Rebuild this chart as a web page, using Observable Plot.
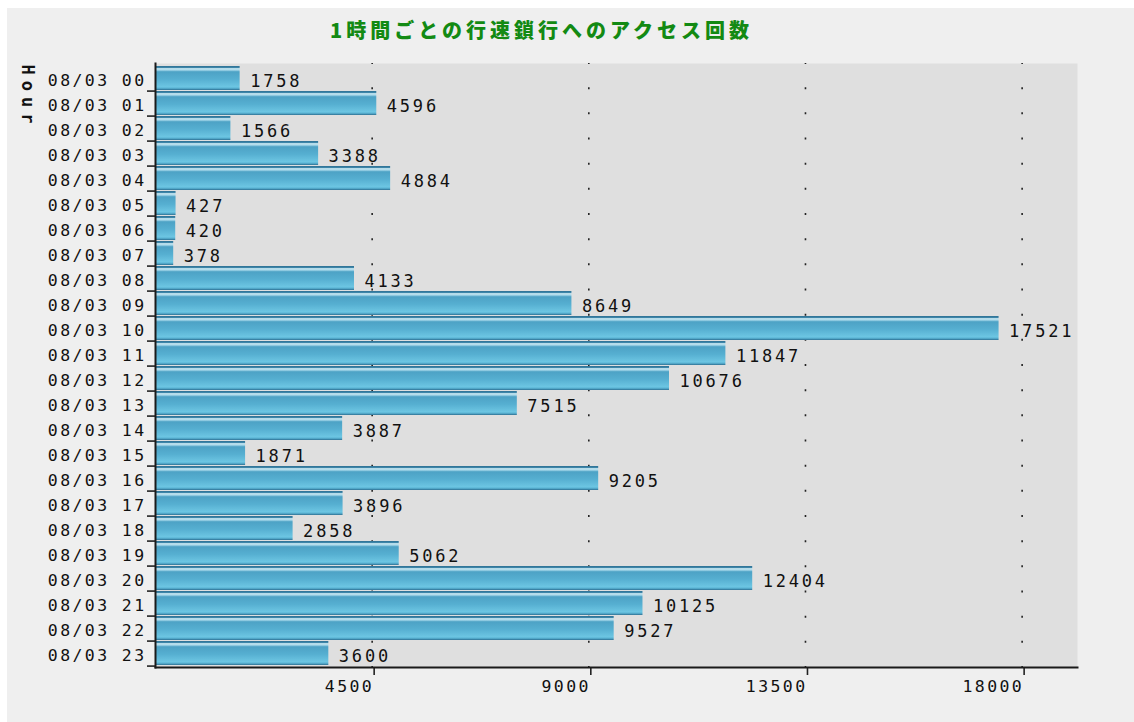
<!DOCTYPE html>
<html>
<head>
<meta charset="utf-8">
<script src="https://cdn.jsdelivr.net/npm/d3@7"></script>
<script src="https://cdn.jsdelivr.net/npm/@observablehq/plot@0.6"></script>
<style>
  body { margin: 0; background: #ffffff; }
  #wrap { position: absolute; left: 7px; top: 8px; width: 1127px; height: 714px; background: #efefef; overflow: hidden; }
  #title { height: 44px; box-sizing: border-box; padding-left: 323px; padding-top: 10px;
           font-family: "Noto Sans CJK JP", sans-serif; font-weight: 900; font-size: 20px;
           letter-spacing: 4px; color: #138a13; line-height: 24px; white-space: nowrap; }
  #chart svg text { letter-spacing: 2.4px; }
  #chart svg .vlabel text { letter-spacing: 2.8px; }
  #chart svg .ylab text { letter-spacing: 6px; }
</style>
</head>
<body>
<div id="wrap">
  <div id="title">1時間ごとの行速鎖行へのアクセス回数</div>
  <div id="chart"></div>
</div>
<script>
// Hourly access counts
const hours = ["08/03 00","08/03 01","08/03 02","08/03 03","08/03 04","08/03 05","08/03 06","08/03 07",
               "08/03 08","08/03 09","08/03 10","08/03 11","08/03 12","08/03 13","08/03 14","08/03 15",
               "08/03 16","08/03 17","08/03 18","08/03 19","08/03 20","08/03 21","08/03 22","08/03 23"];
const counts = [1758,4596,1566,3388,4884,427,420,378,4133,8649,17521,11847,10676,7515,3887,1871,
                9205,3896,2858,5062,12404,10125,9527,3600];
const xTicks = [4500, 9000, 13500, 18000];
const axisLabel = "Hour";

const rows = hours.map((h, i) => ({hour: h, count: counts[i]}));

const W = 1127, H = 670, mT = 11, mB = 55, mL = 148, mR = 57;
const step = (H - mT - mB) / hours.length;

const chart = Plot.plot({
  width: W,
  height: H,
  marginTop: mT,
  marginBottom: mB,
  marginLeft: mL,
  marginRight: mR,
  style: {fontFamily: "'DejaVu Sans Mono', monospace", fontSize: "16px", color: "#111", background: "transparent"},
  x: {domain: [0, 19150], axis: null},
  y: {domain: hours, paddingInner: 0.05, paddingOuter: 0.025, axis: null},
  marks: [
    Plot.frame({fill: "#dfdfdf", stroke: null}),
    // dotted vertical grid: one dot at each row boundary
    Plot.ruleX(xTicks, {stroke: "#222", strokeWidth: 1.6, strokeDasharray: `2 ${step - 2}`, strokeDashoffset: 1}),
    Plot.barX(rows, {x: "count", y: "hour", fill: "url(#barFill)"}),
    Plot.text(rows, {x: "count", y: "hour", text: d => String(d.count), textAnchor: "start", dx: 10, dy: 3,
                     fill: "#111", fontSize: 17, className: "vlabel"}),
    // row boundary ticks on the left axis
    Plot.axisY({tickSize: 8, tickFormat: () => "", dy: step / 2, stroke: "#222", strokeWidth: 1.6, label: null}),
    Plot.axisY({tickSize: 0, tickPadding: 9, dy: 2, fontSize: 16.5, fill: "#111", label: null}),
    Plot.axisX({ticks: xTicks, tickSize: 8, tickPadding: 5, textAnchor: "end", dx: 2, stroke: "#222", strokeWidth: 1.6,
                fontSize: 16.5, fill: "#111", label: null, tickFormat: d => String(d)}),
    Plot.frame({anchor: "left", stroke: "#1a1a1a", strokeWidth: 2}),
    Plot.frame({anchor: "bottom", stroke: "#1a1a1a", strokeWidth: 2}),
    Plot.text([axisLabel], {frameAnchor: "top-left", rotate: 90, dx: -mL + 20, dy: 1, textAnchor: "start", lineAnchor: "middle",
                            fontWeight: "bold", fontSize: 17, fill: "#111", className: "ylab"})
  ]
});

// vertical gradient for the bars: dark rim, bright highlight, blue body
const defs = d3.select(chart).insert("defs", ":first-child");
const g = defs.append("linearGradient").attr("id", "barFill").attr("x1", 0).attr("y1", 0).attr("x2", 0).attr("y2", 1);
[[0, "#2d6f92"], [0.07, "#3f88ab"], [0.11, "#cbe9f3"], [0.17, "#a3d5e8"], [0.24, "#4da2c5"],
 [0.55, "#56afd1"], [0.86, "#6cc5e2"], [0.92, "#5cb6d6"], [1, "#2d6f92"]].forEach(([o, c]) =>
  g.append("stop").attr("offset", o).attr("stop-color", c));

document.getElementById("chart").appendChild(chart);
</script>
</body>
</html>
